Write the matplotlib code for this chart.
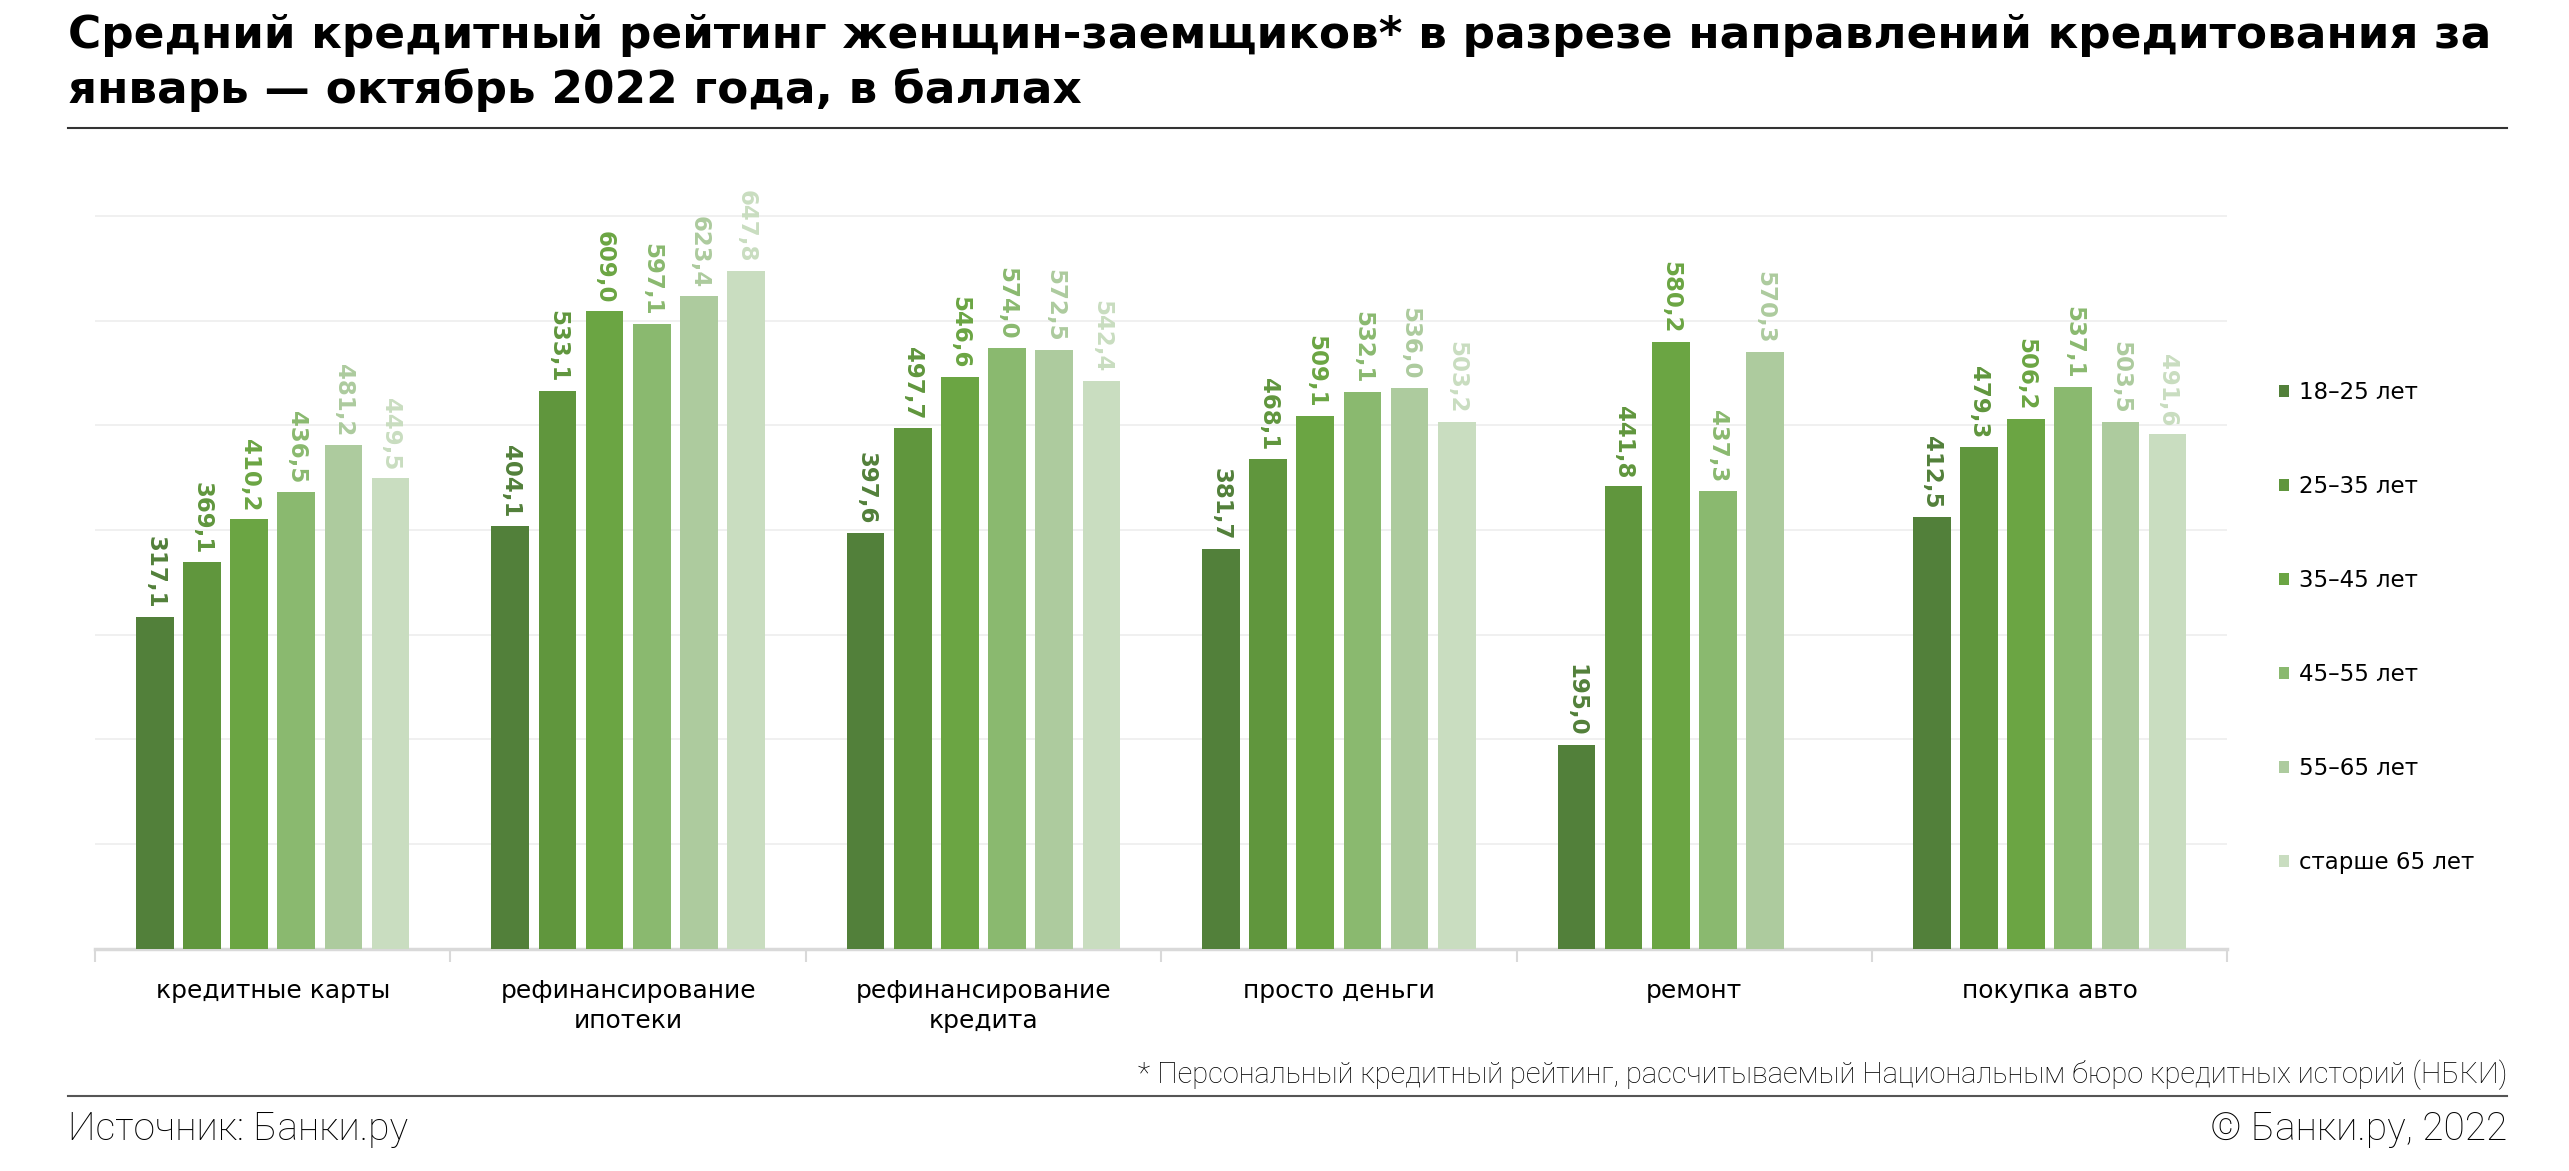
import numpy as np
import matplotlib
matplotlib.use('Agg')
import matplotlib.pyplot as plt
from matplotlib.lines import Line2D

# data
categories = ['кредитные карты', 'рефинансирование\nипотеки', 'рефинансирование\nкредита',
              'просто деньги', 'ремонт', 'покупка авто']
ages = ['18–25 лет', '25–35 лет', '35–45 лет', '45–55 лет', '55–65 лет', 'старше 65 лет']
v_18_25 = [317.1, 404.1, 397.6, 381.7, 195.0, 412.5]
v_25_35 = [369.1, 533.1, 497.7, 468.1, 441.8, 479.3]
v_35_45 = [410.2, 609.0, 546.6, 509.1, 580.2, 506.2]
v_45_55 = [436.5, 597.1, 574.0, 532.1, 437.3, 537.1]
v_55_65 = [481.2, 623.4, 572.5, 536.0, 570.3, 503.5]
v_65 = [449.5, 647.8, 542.4, 503.2, np.nan, 491.6]

series = [v_18_25, v_25_35, v_35_45, v_45_55, v_55_65, v_65]
colors = ['#52803a', '#60963d', '#6ba543', '#8ab96f', '#adcb9e', '#c9ddc0']

plt.rcParams['font.family'] = ['DejaVu Sans']

fig = plt.figure(figsize=(25.69, 11.71), dpi=100)
ax = fig.add_axes([0.037, 0.190, 0.830, 0.670])

x = np.arange(len(categories))
step = 0.1327
width = 0.106
for i, (vals, c) in enumerate(zip(series, colors)):
    pos = x + (i - 2.5) * step
    ax.bar(pos, vals, width=width, color=c, label=ages[i], zorder=3)
    for p, v in zip(pos, vals):
        if np.isnan(v):
            continue
        ax.annotate(f'{v:.1f}'.replace('.', ','), (p, v), xytext=(0, 6),
                    textcoords='offset points', rotation=270, ha='center',
                    va='bottom', fontsize=16.5, fontweight='bold', color=c)

ax.set_xlim(-0.5, len(categories) - 0.5)
ax.set_ylim(0, 750)
ax.set_yticks(np.arange(100, 800, 100))
ax.yaxis.grid(True, color='#eeeeee', lw=1.2, zorder=0)
ax.tick_params(axis='y', left=False, labelleft=False)
ax.set_xticks(x)
ax.set_xticklabels(categories, fontsize=18, linespacing=1.3)
ax.tick_params(axis='x', length=0, pad=22)
ax.set_xticks(np.arange(-0.5, len(categories)), minor=True)
ax.tick_params(axis='x', which='minor', length=9, width=1.5, color='#d9d9d9')
for s in ['top', 'right', 'left']:
    ax.spines[s].set_visible(False)
ax.spines['bottom'].set_color('#d9d9d9')
ax.spines['bottom'].set_linewidth(2.5)

ax.legend(loc='center left', bbox_to_anchor=(0.879, 0.464), bbox_transform=fig.transFigure,
          frameon=False, fontsize=16.5, handlelength=0.45, handleheight=0.45,
          handletextpad=0.45, labelspacing=3.1)

fig.text(0.0265, 0.988, 'Средний кредитный рейтинг женщин-заемщиков* в разрезе направлений кредитования за\n'
         'январь — октябрь 2022 года, в баллах', fontsize=32.7, fontweight='bold',
         va='top', ha='left', linespacing=1.32)
fig.add_artist(Line2D([0.0265, 0.976], [0.8907, 0.8907], color='#333333', lw=1.5))

foot = dict(family=['Roboto', 'DejaVu Sans'], fontweight='light', color='#000000')
fig.text(0.976, 0.082, '* Персональный кредитный рейтинг, рассчитываемый Национальным бюро кредитных историй (НБКИ)',
         fontsize=20.9, ha='right', va='center', **foot)
fig.add_artist(Line2D([0.0265, 0.976], [0.064, 0.064], color='#555555', lw=1.5))
fig.text(0.0265, 0.036, 'Источник: Банки.ру', fontsize=28, ha='left', va='center', **foot)
fig.text(0.976, 0.036, '© Банки.ру, 2022', fontsize=28, ha='right', va='center', **foot)

fig.savefig('out.png', dpi=100)
